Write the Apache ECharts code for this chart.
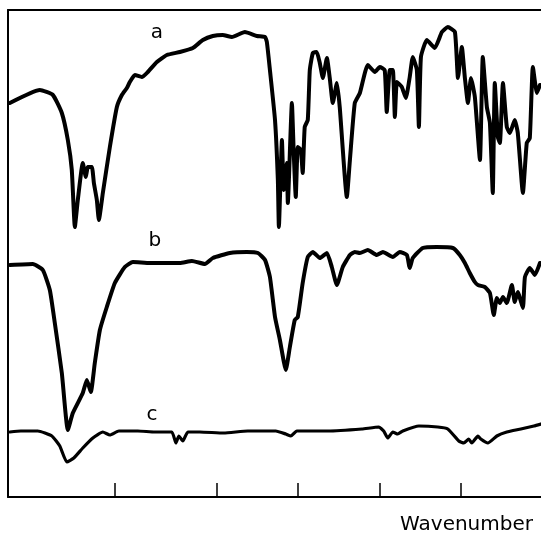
<!DOCTYPE html>
<html><head><meta charset="utf-8">
<script src="https://cdn.jsdelivr.net/npm/echarts@6/dist/echarts.min.js"></script>
<style>html,body{margin:0;padding:0;background:#fff}#c{width:541px;height:542px}</style>
</head><body><div id="c"></div>
<script>
// Wavenumber ticks (cm^-1), unlabeled in original
const tickWavenumbers = [3000, 2000, 1600, 1200, 800];
const curveLabels = ['a', 'b', 'c'];
const axisTitle = 'Wavenumber';

// Spectrum a: [wavenumber, signal (offset units)]
const spectrumA = [
[4032,394],[3737,407],[3609,402],[3521,384],[3462,357],[3423,327],[3393,270],[3364,297],[3315,334],[3285,320],[3265,330],[3226,330],[3206,314],[3177,297],[3157,277],[3118,304],[3049,350],[2980,390],[2931,402],[2882,409],[2853,415],[2803,422],[2735,420],[2676,425],[2587,435],[2489,442],[2361,445],[2233,449],[2135,457],[2037,461],[1970,462],[1925,460],[1861,465],[1802,461],[1762,460],[1753,455],[1738,427],[1713,377],[1699,317],[1694,270],[1679,357],[1670,307],[1655,334],[1650,294],[1630,394],[1621,344],[1611,300],[1601,350],[1586,347],[1577,324],[1567,370],[1552,377],[1542,427],[1527,444],[1508,445],[1493,434],[1478,419],[1458,439],[1444,419],[1429,394],[1409,414],[1395,390],[1360,300],[1345,337],[1321,394],[1296,404],[1257,432],[1222,425],[1198,430],[1174,427],[1164,385],[1149,427],[1134,427],[1124,380],[1114,415],[1090,410],[1070,399],[1051,420],[1036,440],[1016,427],[1006,370],[996,440],[967,457],[928,449],[893,465],[864,470],[829,465],[814,419],[795,450],[780,419],[765,394],[750,419],[731,400],[706,337],[692,440],[672,390],[657,374],[643,304],[633,414],[618,360],[608,354],[593,414],[574,370],[559,364],[535,377],[520,364],[495,304],[476,354],[461,359],[446,430],[426,404],[411,412]
];
const spectrumB = [
[4032,232],[3806,233],[3708,227],[3639,207],[3590,174],[3521,124],[3462,67],[3413,84],[3315,104],[3275,117],[3236,105],[3197,134],[3147,167],[3079,190],[3000,214],[2902,230],[2823,235],[2656,234],[2489,234],[2361,234],[2243,236],[2115,233],[2037,239],[1935,244],[1852,245],[1797,244],[1762,237],[1738,220],[1713,180],[1689,157],[1660,127],[1640,150],[1616,177],[1601,180],[1577,214],[1552,240],[1527,245],[1493,239],[1458,244],[1434,230],[1409,212],[1380,230],[1345,242],[1321,245],[1296,244],[1257,247],[1213,242],[1183,245],[1134,240],[1100,245],[1065,242],[1051,229],[1036,239],[987,249],[918,250],[839,249],[805,242],[780,234],[756,224],[731,215],[716,212],[682,210],[657,204],[638,182],[623,199],[608,194],[593,200],[574,194],[549,212],[535,195],[520,205],[495,189],[485,220],[461,229],[436,222],[411,234]
];
const spectrumC = [
[4032,65],[3924,66],[3757,66],[3619,61],[3541,51],[3472,35],[3403,39],[3315,49],[3216,59],[3118,65],[3049,62],[2961,66],[2774,66],[2607,65],[2440,65],[2400,54],[2371,61],[2332,56],[2283,65],[2165,65],[1965,64],[1847,66],[1709,66],[1660,63],[1635,61],[1606,66],[1454,66],[1286,68],[1203,70],[1179,66],[1159,59],[1134,65],[1110,63],[1085,66],[1006,71],[913,70],[864,68],[810,56],[785,54],[761,58],[746,54],[716,61],[702,58],[667,54],[623,61],[574,65],[505,68],[441,71],[406,73]
];
// label anchor points [wavenumber, signal]
const labelPos = [[2587,464],[2607,256],[2636,82]];

// Instrument abscissa: scale doubles below 2000 cm^-1
function wnToU(w){ return w >= 2000 ? 4000 - w : 2000 + 2*(2000 - w); }
const X_START = 4050, X_END = 406;

const chart = echarts.init(document.getElementById('c'));
const font = '"DejaVu Sans", "Noto Sans", sans-serif';
function mk(name, data, lw, idx){
  return {
    type:'line', name, data: data.map(p => [wnToU(p[0]), p[1]]),
    showSymbol:false, symbol:'none', smooth:0.15, animation:false,
    lineStyle:{color:'#000', width:lw, join:'round', cap:'round'},
    markPoint:{symbol:'circle', symbolSize:0, silent:true, animation:false,
      label:{show:true, formatter:curveLabels[idx], color:'#000', fontSize:20, fontFamily:font, position:'inside'},
      data:[{coord:[wnToU(labelPos[idx][0]), labelPos[idx][1]]}]}
  };
}
const xBase = {type:'value', min:wnToU(X_START), max:wnToU(X_END), splitLine:{show:false}, axisLabel:{show:false}};
chart.setOption({
  backgroundColor:'#fff',
  animation:false,
  title:{text:axisTitle, right:3, bottom:2, textStyle:{fontSize:20, fontWeight:'normal', color:'#000', fontFamily:font}},
  grid:{left:8, top:10, right:0, height:487, show:false},
  xAxis:[
    Object.assign({}, xBase, {position:'bottom',
      axisLine:{show:true, onZero:false, lineStyle:{color:'#000', width:2}},
      axisTick:{show:true, inside:true, length:14, customValues: tickWavenumbers.map(wnToU), lineStyle:{color:'#000', width:1.5}}}),
    Object.assign({}, xBase, {position:'top',
      axisLine:{show:true, onZero:false, lineStyle:{color:'#000', width:2}}, axisTick:{show:false}})
  ],
  yAxis:{type:'value', min:0, max:487, axisLine:{show:true, onZero:false, lineStyle:{color:'#000', width:2}}, splitLine:{show:false}, axisLabel:{show:false}, axisTick:{show:false}},
  series:[mk('a', spectrumA, 4, 0), mk('b', spectrumB, 4, 1), mk('c', spectrumC, 3.2, 2)]
});
</script></body></html>
